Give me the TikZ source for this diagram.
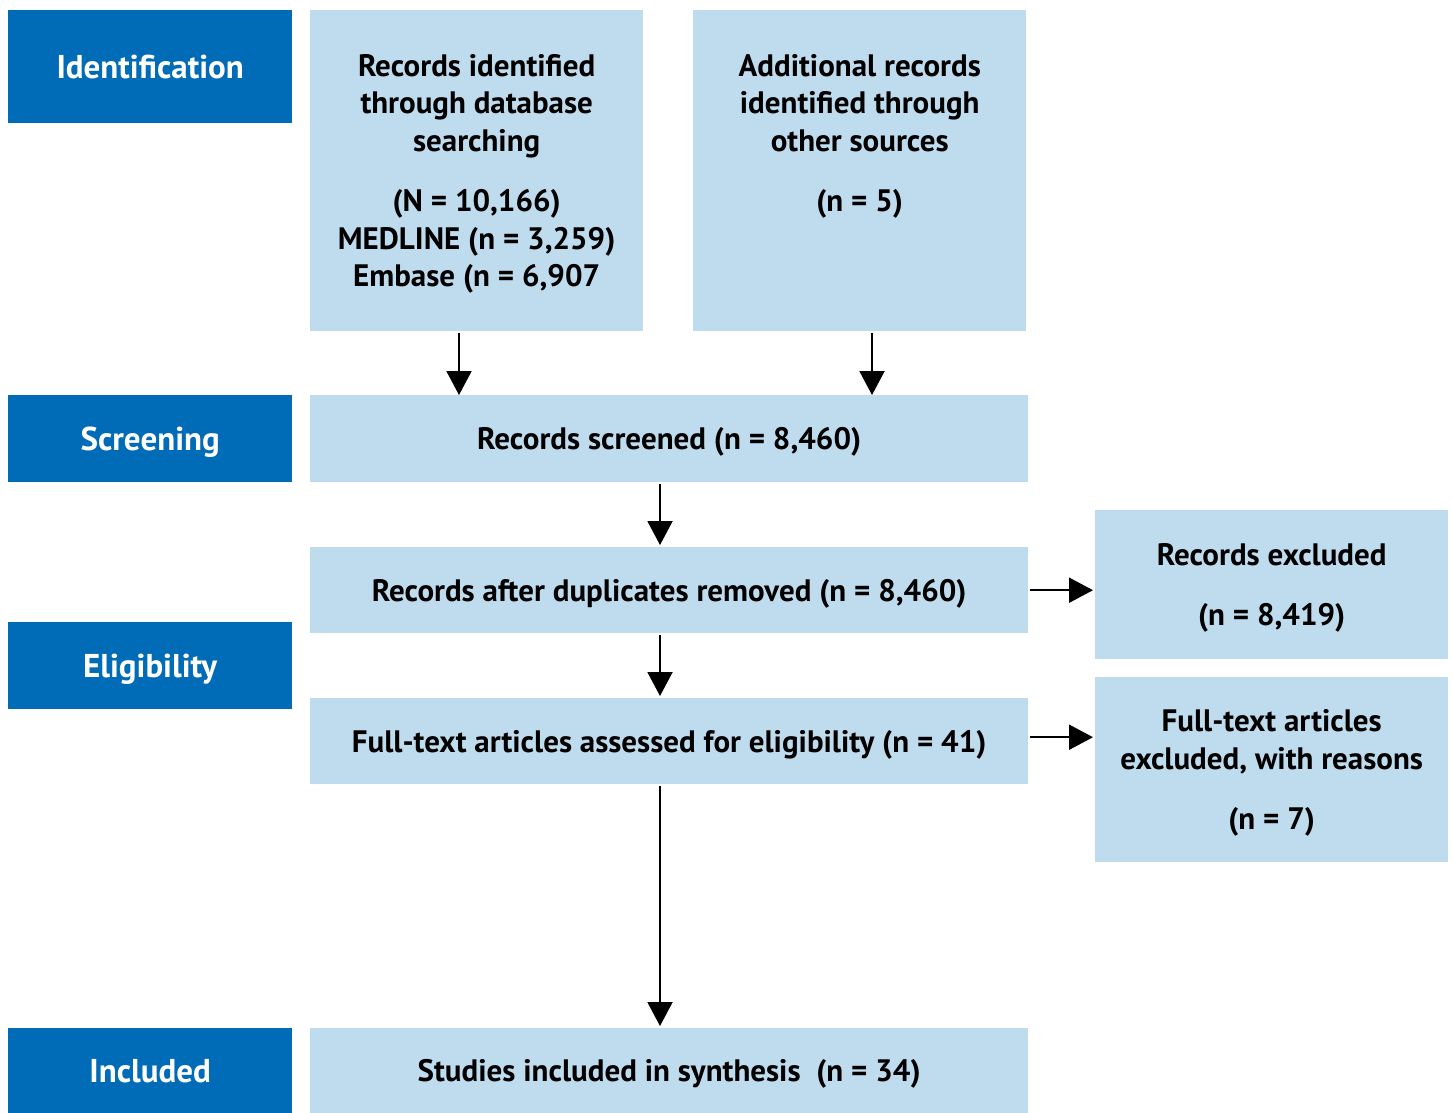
\documentclass[tikz,border=0pt]{standalone}
\usepackage{fontspec}
\setmainfont{PT Sans}
\usetikzlibrary{positioning,arrows.meta}

\definecolor{stagecol}{HTML}{006BB6}
\definecolor{boxcol}{HTML}{BFDCEE}

\begin{document}
\begin{tikzpicture}[x=1pt, y=-1pt,
  stage/.style={fill=stagecol, text=white, anchor=north west, inner sep=0pt,
    minimum width=284pt, text depth=0pt, font=\fontsize{33}{37.5}\selectfont\bfseries},
  flowbox/.style={fill=boxcol, anchor=north west, inner sep=0pt, align=center,
    text depth=0pt, font=\fontsize{31}{37.5}\selectfont\bfseries},
  arr/.style={line width=2pt, -{Triangle[width=25pt, length=24pt]}}
]

% Page
\useasboundingbox (0,0) rectangle (1453,1113);

% Stage labels
\node[stage, minimum height=113pt] (ident) at (8,10) {Identification};
\node[stage, minimum height=87pt] (screen) at (8,395) {Screening};
\node[stage, minimum height=87pt] (elig) at (8,622) {Eligibility};
\node[stage, minimum height=85pt] (incl) at (8,1028) {Included};

% Identification boxes
\node[flowbox, minimum width=333pt, minimum height=321pt] (recdb) at (310,10)
  {Records identified\\through database\\searching\\[23pt]
   (N = 10,166)\\MEDLINE (n = 3,259)\\Embase (n = 6,907};
\node[flowbox, minimum width=333pt, minimum height=321pt] (recother) at (693,10)
  {Additional records\\identified through\\other sources\\[23pt]
   (n = 5)\\\mbox{}\\\mbox{}};

% Main column
\node[flowbox, minimum width=718pt, minimum height=87pt] (screened) at (310,395)
  {Records screened (n = 8,460)};
\node[flowbox, minimum width=718pt, minimum height=86pt] (dedup) at (310,547)
  {Records after duplicates removed (n = 8,460)};
\node[flowbox, minimum width=718pt, minimum height=86pt] (fulltext) at (310,698)
  {Full-text articles assessed for eligibility (n = 41)};
\node[flowbox, minimum width=718pt, minimum height=85pt] (studies) at (310,1028)
  {Studies included in synthesis\ \ (n = 34)};

% Exclusions
\node[flowbox, minimum width=353pt, minimum height=149pt] (recexcl) at (1095,510)
  {Records excluded\\[23pt](n = 8,419)};
\node[flowbox, minimum width=353pt, minimum height=185pt] (ftexcl) at (1095,677)
  {Full-text articles\\excluded, with reasons\\[23pt](n = 7)};

% Arrow columns
\coordinate (colA) at (459,0);
\coordinate (colB) at (872,0);
\coordinate (colC) at (660,0);

\draw[arr] ([yshift=-2pt]recdb.south -| colA) -- (screened.north -| colA);
\draw[arr] ([yshift=-2pt]recother.south -| colB) -- (screened.north -| colB);
\draw[arr] ([yshift=-2pt]screened.south -| colC) -- ([yshift=2pt]dedup.north -| colC);
\draw[arr] ([yshift=-2pt]dedup.south -| colC) -- ([yshift=2pt]fulltext.north -| colC);
\draw[arr] ([yshift=-2pt]fulltext.south -| colC) -- ([yshift=2pt]studies.north -| colC);
\draw[arr] ([xshift=2pt]dedup.east) -- ([xshift=-2pt]dedup.east -| recexcl.west);
\draw[arr] ([xshift=2pt,yshift=4pt]fulltext.east) -- ([xshift=-2pt,yshift=4pt]fulltext.east -| ftexcl.west);

\end{tikzpicture}
\end{document}
